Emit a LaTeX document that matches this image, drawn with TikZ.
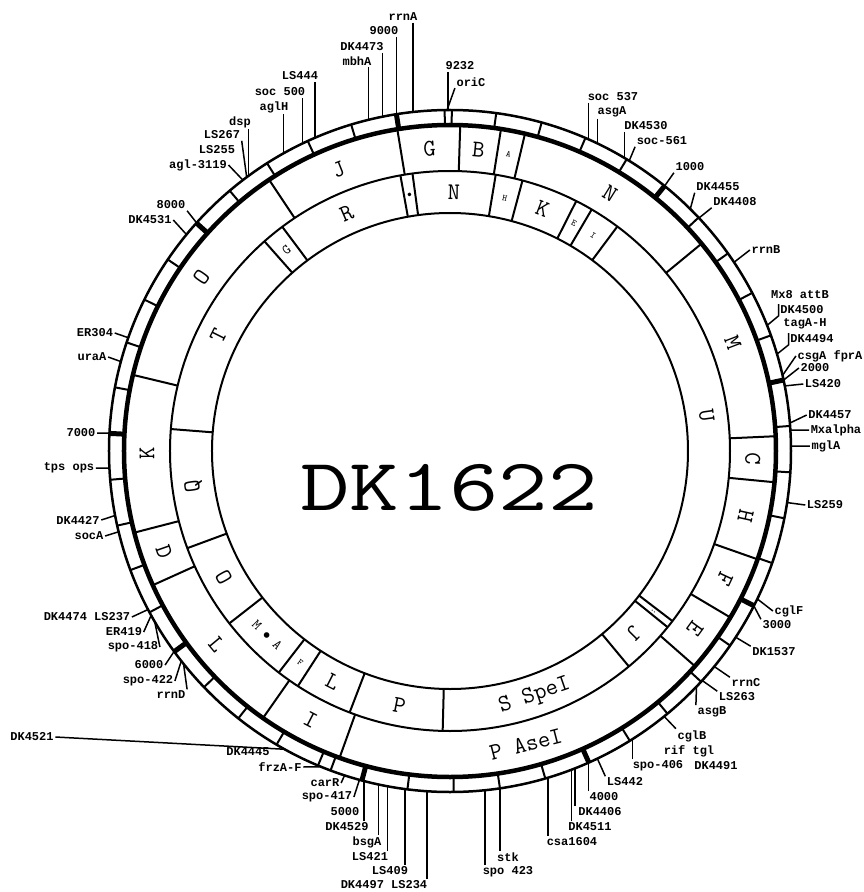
\documentclass[tikz,border=0pt]{standalone}
\usepackage{fontspec}
\newfontfamily\lblfont{Liberation Mono}
\tikzset{
  lbl/.style={font=\lblfont\bfseries\fontsize{12}{12}\selectfont, inner sep=1.5pt},
  lead/.style={line width=1.5pt},
  ring/.style={line width=2pt},
  segbig/.style={font=\ttfamily\fontsize{24}{24}\selectfont},
  segsmall/.style={font=\ttfamily\fontsize{14}{14}\selectfont},
  segtiny/.style={font=\ttfamily\fontsize{9}{9}\selectfont}
}
\begin{document}
\begin{tikzpicture}[x=1pt, y=1pt]
	\useasboundingbox (-450,-441) rectangle (414,451);
	
	% the four circles
	\draw[line width=2.5pt] (0,0) circle (341);
	\draw[line width=4.5pt] (0,0) circle (326);
	\draw[ring] (0,0) circle (280);
	\draw[ring] (0,0) circle (238);
	
	% kb scale: a tick every 200 kb, a heavy one every 1000 kb
	\foreach \k in {200,400,...,9000}
		\draw[ring] ({90-\k/9232*360}:326) -- ({90-\k/9232*360}:341);
	\foreach \k in {1000,2000,...,9000}
		\draw[line width=5pt] ({90-\k/9232*360}:326) -- ({90-\k/9232*360}:341);
	\draw[ring] (249.5:326) -- (249.5:341);
	\draw[ring] (90.9:326) -- (90.9:341);
	\draw[ring] (89.7:326) -- (89.7:341);
	
	% AseI fragments
	\foreach \a in {99.3,88.2,81,76.7,39.5,2.6,354.5,340.6,329.3,318.7,250.2,235,204.3,194.5,166.5,123.7}
		\draw[ring] (\a:280) -- (\a:326);
	\foreach \a/\t/\s/\f [count=\i] in {93.85/G/segbig/-90, 84.6/B/segbig/-90, 78.85/A/segtiny/-90,
		58.1/N/segbig/-90, 21/M/segbig/-90, 358.55/C/segbig/-90, 347.5/H/segbig/-90, 335/F/segbig/-90,
		324/E/segbig/-90, 284.5/P AseI/segbig/90, 242.6/I/segbig/90, 219.65/L/segbig/90,
		199.4/D/segbig/90, 180.5/K/segbig/-90, 145.1/O/segbig/-90, 111.6/J/segbig/-90}
		\node[\s, rotate=\a+\f] (ase\i) at (\a:303) {\t};
	
	% SpeI fragments
	\foreach \a in {100.2,97.7,80.6,75,63.2,59.6,53.3,322.6,321,309.7,268.5,249,237.1,232.3,218,200.3,175.5,131.5,126.8}
		\draw[ring] (\a:238) -- (\a:280);
	\foreach \a/\t/\s/\f [count=\i] in {98.95/$\bullet$/segtiny/-90, 89.15/N/segbig/-90, 77.8/H/segtiny/-90,
		69.1/K/segbig/-90, 61.4/E/segtiny/-90, 56.45/I/segtiny/-90, 7.95/U/segbig/-90,
		321.8/:/segtiny/-90, 315.35/J/segbig/-90, 289.1/S SpeI/segbig/90, 258.75/P/segbig/90,
		243.05/L/segbig/90, 234.7/F/segtiny/90, 225.15/M $\bullet$ A/segsmall/90, 209.15/O/segbig/90,
		187.9/Q/segbig/-90, 153.5/T/segbig/-90, 129.15/G/segsmall/-90, 113.5/R/segbig/-90}
		\node[\s, rotate=\a+\f] (spe\i) at (\a:259) {\t};
	
	\node[font=\ttfamily\fontsize{74}{74}\selectfont, xscale=1.3] (strain) at (-1,-37) {DK1622};
	
	% loci
	\node[lbl] (rrnA) at (-47,434) {rrnA};
	\node[lbl] (n9000) at (-66,420) {9000};
	\node[lbl] (DK4473) at (-88,404) {DK4473};
	\node[lbl] (mbhA) at (-93,390) {mbhA};
	\node[lbl] (n9232) at (10,385) {9232};
	\node[lbl] (oriC) at (21,369) {oriC};
	\node[lbl] (LS444) at (-150,375) {LS444};
	\node[lbl] (soc500) at (-170,359) {soc 500};
	\node[lbl] (aglH) at (-176,344) {aglH};
	\node[lbl] (dsp) at (-210,329) {dsp};
	\node[lbl] (LS267) at (-228,316) {LS267};
	\node[lbl] (LS255) at (-233,301) {LS255};
	\node[lbl] (agl3119) at (-252,286) {agl-3119};
	\node[lbl] (n8000) at (-279,246) {8000};
	\node[lbl] (DK4531) at (-300,231) {DK4531};
	\node[lbl] (ER304) at (-355,118) {ER304};
	\node[lbl] (uraA) at (-358,94) {uraA};
	\node[lbl] (n7000) at (-369,18) {7000};
	\node[lbl] (tpsops) at (-381,-17) {tps ops};
	\node[lbl] (DK4427) at (-372,-69) {DK4427};
	\node[lbl] (socA) at (-361,-85) {socA};
	\node[lbl] (LS237) at (-363,-166) {DK4474 LS237};
	\node[lbl] (ER419) at (-326,-181) {ER419};
	\node[lbl] (spo418) at (-317,-196) {spo-418};
	\node[lbl] (n6000) at (-301,-214) {6000};
	\node[lbl] (spo422) at (-302,-230) {spo-422};
	\node[lbl] (rrnD) at (-279,-244) {rrnD};
	\node[lbl] (DK4521) at (-418,-286) {DK4521};
	\node[lbl] (DK4445) at (-202,-301) {DK4445};
	\node[lbl] (frzAF) at (-170,-316) {frzA-F};
	\node[lbl] (carR) at (-125,-332) {carR};
	\node[lbl] (spo417) at (-123,-346) {spo-417};
	\node[lbl] (n5000) at (-105,-361) {5000};
	\node[lbl] (DK4529) at (-103,-376) {DK4529};
	\node[lbl] (bsgA) at (-83,-391) {bsgA};
	\node[lbl] (LS421) at (-80,-406) {LS421};
	\node[lbl] (LS409) at (-60,-420) {LS409};
	\node[lbl] (LS234) at (-66,-434) {DK4497 LS234};
	\node[lbl] (spo423) at (58,-421) {spo 423};
	\node[lbl] (stk) at (58,-406) {stk};
	\node[lbl] (csa1604) at (122,-391) {csa1604};
	\node[lbl] (DK4511) at (140,-376) {DK4511};
	\node[lbl] (DK4406) at (150,-361) {DK4406};
	\node[lbl] (n4000) at (154,-346) {4000};
	\node[lbl] (LS442) at (175,-331) {LS442};
	\node[lbl] (spo406) at (208,-315) {spo-406};
	\node[lbl] (DK4491) at (266,-315) {DK4491};
	\node[lbl] (riftgl) at (239,-300) {rif tgl};
	\node[lbl] (cglB) at (242,-285) {cglB};
	\node[lbl] (asgB) at (262,-261) {asgB};
	\node[lbl] (LS263) at (287,-246) {LS263};
	\node[lbl] (rrnC) at (296,-232) {rrnC};
	\node[lbl] (DK1537) at (324,-201) {DK1537};
	\node[lbl] (n3000) at (327,-174) {3000};
	\node[lbl] (cglF) at (339,-160) {cglF};
	\node[lbl] (LS259) at (375,-54) {LS259};
	\node[lbl] (mglA) at (376,5) {mglA};
	\node[lbl] (Mxalpha) at (386,21) {Mxalpha};
	\node[lbl] (DK4457) at (380,36) {DK4457};
	\node[lbl] (LS420) at (373,67) {LS420};
	\node[lbl] (n2000) at (365,83) {2000};
	\node[lbl] (csgA) at (380,95) {csgA fprA};
	\node[lbl] (DK4494) at (362,112) {DK4494};
	\node[lbl] (tagAH) at (355,127) {tagA-H};
	\node[lbl] (DK4500) at (352,141) {DK4500};
	\node[lbl] (Mx8) at (350,156) {Mx8 attB};
	\node[lbl] (rrnB) at (316,201) {rrnB};
	\node[lbl] (DK4408) at (285,249) {DK4408};
	\node[lbl] (DK4455) at (268,264) {DK4455};
	\node[lbl] (n1000) at (240,284) {1000};
	\node[lbl] (soc561) at (212,310) {soc-561};
	\node[lbl] (DK4530) at (196,325) {DK4530};
	\node[lbl] (asgA) at (162,339) {asgA};
	\node[lbl] (soc537) at (163,354) {soc 537};
	
	% where each locus meets the map
	\foreach \n/\a in {rrnA/96.2, n9000/99.05, DK4473/101.4, mbhA/103.8, n9232/90.3, oriC/90.5,
		LS444/113.3, soc500/115.6, aglH/119.2, dsp/126.2, LS267/126.6, agl3119/127.4, n8000/138,
		DK4531/140.6, ER304/160.6, uraA/164.8, n7000/177, tpsops/182.9, DK4427/190.9, socA/193.7,
		LS237/207.7, ER419/208.8, spo418/210, n6000/216, spo422/218, rrnD/218.6, DK4521/241,
		frzAF/247.8, carR/252, spo417/254.6, DK4529/255.4, bsgA/257.9, LS421/259.4, LS409/262.4,
		LS234/266.1, spo423/275.9, stk/278.4, csa1604/286.7, DK4511/290.9, DK4406/291.5, n4000/294,
		LS442/295.6, spo406/302.4, cglB/308.9, asgB/316.3, LS263/317.7, rrnC/320.8, DK1537/326.9,
		n3000/333, cglF/334.3, LS259/351.3, mglA/0.8, Mxalpha/3.5, DK4457/4.7, LS420/11, n2000/12,
		csgA/12.8, DK4494/16.5, DK4500/21.6, rrnB/33.6, DK4408/43.1, DK4455/45.2, n1000/51,
		soc561/58.3, DK4530/59.2, asgA/64.4, soc537/66}
		\coordinate (t\n) at (\a:341);
	
	\foreach \n in {rrnA,n9000,DK4473,mbhA,n9232,LS444,soc500,aglH,dsp,soc537,asgA,DK4530}
		\draw[lead] (\n.south -| t\n) -- (t\n);
	\foreach \n in {DK4406,DK4511,csa1604,stk,spo423,LS234,LS409,LS421,bsgA,DK4529,n4000,spo406}
		\draw[lead] (\n.north -| t\n) -- (t\n);
	\foreach \n/\p in {oriC/south west, LS267/south east, agl3119/east, n8000/south east, DK4531/east,
		ER304/east, uraA/east, n7000/east, tpsops/east, DK4427/east, socA/east, LS237/east,
		ER419/east, spo418/east, n6000/east, spo422/east, rrnD/north east, DK4521/east,
		frzAF/east, carR/east, spo417/east, LS442/north west, cglB/north west, asgB/north west,
		LS263/north west, rrnC/north west, DK1537/north west, n3000/north west, cglF/west,
		LS259/west, mglA/west, Mxalpha/west, DK4457/west, LS420/west, n2000/west, csgA/west,
		rrnB/west, DK4408/south west, DK4455/south west, n1000/south west, soc561/south west}
		\draw[lead] (\n.\p) -- (t\n);
	\draw[lead] (DK4494.north west) -- (DK4494.south west) -- (tDK4494);
	\draw[lead] (DK4500.north west) -- (DK4500.south west) -- (tDK4500);
\end{tikzpicture}
\end{document}
